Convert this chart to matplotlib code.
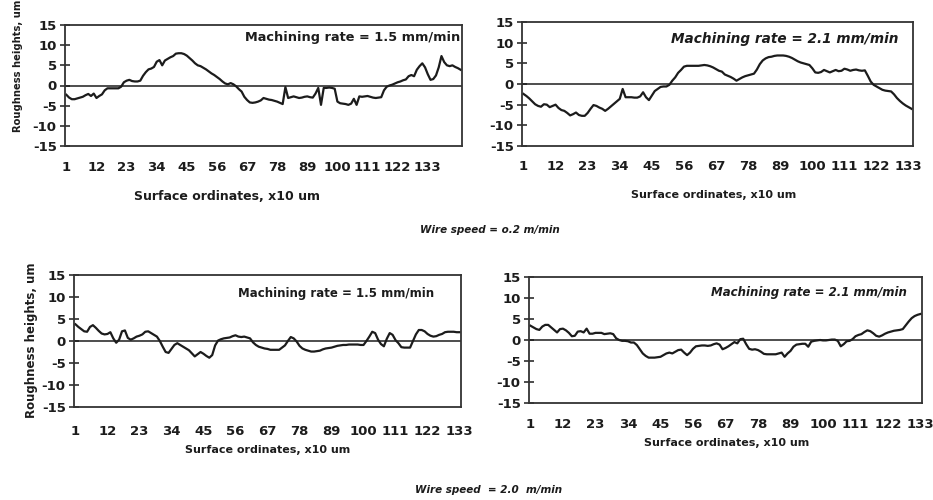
import matplotlib
matplotlib.use("Agg")
import matplotlib.pyplot as plt

plt.rcParams['font.family'] = ['DejaVu Sans']

# ---------------- data ----------------
tick_labels = ['1', '12', '23', '34', '45', '56', '67', '78', '89', '100', '111', '122', '133']

# Wire speed 0.2 m/min, machining rate 1.5 mm/min
rough_a = [-2.3, -3.0, -3.4, -3.4, -3.2, -3.0, -2.8, -2.4, -2.1, -2.6,
           -2.0, -3.1, -2.6, -2.2, -1.2, -0.7, -0.7, -0.7, -0.7, -0.7,
           -0.3, 0.8, 1.2, 1.4, 1.1, 1.0, 1.0, 1.2, 2.4, 3.3,
           4.0, 4.2, 4.6, 5.9, 6.3, 5.0, 6.2, 6.6, 7.0, 7.3,
           7.9, 8.0, 8.0, 7.8, 7.4, 6.8, 6.2, 5.5, 5.0, 4.8,
           4.4, 4.0, 3.5, 3.0, 2.6, 2.1, 1.6, 1.0, 0.5, 0.3,
           0.6, 0.3, -0.2, -0.9, -1.5, -2.8, -3.6, -4.2, -4.3, -4.2,
           -4.0, -3.7, -3.1, -3.3, -3.5, -3.6, -3.8, -4.0, -4.3, -4.6,
           -0.4, -3.1, -2.9, -2.7, -2.9, -3.1, -3.0, -2.8, -2.7, -2.9,
           -3.0, -2.0, -0.6, -4.8, -0.6, -0.6, -0.5, -0.6, -0.8, -4.0,
           -4.4, -4.5, -4.6, -4.8, -4.5, -3.3, -4.8, -2.7, -2.8, -2.7,
           -2.6, -2.8, -3.0, -3.1, -3.0, -2.9, -1.2, -0.3, 0.0, 0.2,
           0.5, 0.8, 1.0, 1.3, 1.5, 2.3, 2.6, 2.3, 3.9, 4.8,
           5.5, 4.5, 2.8, 1.4, 1.6, 2.5, 4.5, 7.3, 5.8, 5.0,
           4.8, 5.0, 4.6, 4.3, 3.9]

# Wire speed 0.2 m/min, machining rate 2.1 mm/min
rough_b = [-2.4, -2.9, -3.5, -4.2, -4.9, -5.3, -5.5, -4.9, -5.0, -5.6,
           -5.3, -5.0, -5.8, -6.3, -6.5, -7.0, -7.6, -7.3, -6.9, -7.5,
           -7.7, -7.7, -7.0, -6.0, -5.1, -5.3, -5.7, -6.0, -6.5, -6.0,
           -5.4, -4.8, -4.2, -3.6, -1.2, -3.2, -3.2, -3.2, -3.3, -3.3,
           -3.0, -2.0, -3.2, -3.9, -2.8, -1.7, -1.2, -0.7, -0.6, -0.6,
           -0.2, 0.8, 1.6, 2.7, 3.4, 4.2, 4.4, 4.4, 4.4, 4.4,
           4.4, 4.5, 4.6, 4.5, 4.3, 4.0, 3.6, 3.2, 3.0, 2.3,
           2.0, 1.7, 1.3, 0.8, 1.2, 1.6, 1.9, 2.1, 2.3, 2.5,
           3.5, 4.8, 5.7, 6.2, 6.5, 6.6, 6.8, 6.9, 6.9, 6.9,
           6.8, 6.6, 6.3, 5.9, 5.5, 5.2, 5.0, 4.8, 4.6, 3.8,
           2.8, 2.7, 2.9, 3.4, 3.1, 2.8, 3.1, 3.4, 3.1, 3.2,
           3.7, 3.5, 3.2, 3.4, 3.5, 3.3, 3.2, 3.3, 2.0, 0.6,
           -0.2, -0.6, -1.0, -1.4, -1.6, -1.7, -1.8, -2.5, -3.4, -4.1,
           -4.7, -5.2, -5.6, -6.0]

# Wire speed 2.0 m/min, machining rate 1.5 mm/min
rough_c = [3.8, 3.2, 2.7, 2.2, 2.1, 3.2, 3.6, 3.0, 2.3, 1.7,
           1.5, 1.6, 2.0, 0.6, -0.4, 0.3, 2.2, 2.4, 0.7, 0.3,
           0.6, 1.0, 1.2, 1.5, 2.1, 2.2, 1.8, 1.4, 1.0, 0.0,
           -1.3, -2.5, -2.7, -1.8, -0.9, -0.5, -0.9, -1.3, -1.7, -2.1,
           -2.8, -3.5, -3.0, -2.5, -2.9, -3.4, -3.8, -3.2, -1.0, 0.1,
           0.4, 0.6, 0.7, 0.8, 1.1, 1.3, 1.0, 0.9, 1.0, 0.8,
           0.6, -0.3, -0.9, -1.3, -1.5, -1.7, -1.8, -2.0, -2.0, -2.0,
           -2.0, -1.5, -1.0, 0.0, 0.9, 0.6, -0.1, -1.1, -1.7, -2.0,
           -2.2, -2.4, -2.4, -2.3, -2.2, -1.9, -1.7, -1.6, -1.5, -1.3,
           -1.1, -1.0, -0.9, -0.9, -0.8, -0.8, -0.8, -0.8, -0.9, -0.9,
           0.0, 1.0, 2.1, 1.8, 0.3, -0.7, -1.2, 0.5, 1.8, 1.4,
           0.2, -0.5, -1.4, -1.5, -1.5, -1.5, 0.0, 1.5, 2.5, 2.5,
           2.2, 1.6, 1.2, 1.0, 1.1, 1.4, 1.6, 2.0, 2.1, 2.1,
           2.1, 2.0, 2.0]

# Wire speed 2.0 m/min, machining rate 2.1 mm/min
rough_d = [3.4, 3.0, 2.6, 2.4, 3.2, 3.6, 3.6, 3.0, 2.4, 1.8,
           2.6, 2.7, 2.3, 1.7, 0.9, 1.0, 2.0, 2.1, 1.8, 2.7,
           1.5, 1.5, 1.7, 1.7, 1.7, 1.4, 1.5, 1.6, 1.4, 0.4,
           0.0, -0.2, -0.2, -0.3, -0.6, -0.6, -1.2, -2.2, -3.2, -3.8,
           -4.2, -4.2, -4.2, -4.1, -4.0, -3.6, -3.2, -3.0, -3.2, -2.8,
           -2.4, -2.3, -3.0, -3.6, -3.0, -2.1, -1.5, -1.4, -1.3, -1.3,
           -1.4, -1.3, -1.0, -0.8, -1.1, -2.2, -1.9, -1.5, -1.0, -0.5,
           -0.8, 0.2, 0.3, -1.0, -2.1, -2.3, -2.2, -2.4, -2.8, -3.3,
           -3.4, -3.4, -3.4, -3.4, -3.2, -3.0, -4.0, -3.2, -2.6, -1.6,
           -1.1, -1.0, -0.9, -0.9, -1.6, -0.4, -0.2, -0.1, 0.0, -0.1,
           -0.1, 0.0, 0.1, 0.1, -0.2, -1.5, -1.0, -0.3, -0.2, 0.2,
           0.9, 1.2, 1.4, 1.9, 2.3, 2.1, 1.6, 1.0, 0.8, 1.1,
           1.5, 1.8, 2.0, 2.2, 2.3, 2.4, 2.6, 3.5, 4.4, 5.2,
           5.7, 6.0, 6.2]

rate_labels = ['Machining rate = 1.5 mm/min', 'Machining rate = 2.1 mm/min',
               'Machining rate = 1.5 mm/min', 'Machining rate = 2.1 mm/min']
xlabel_text = 'Surface ordinates, x10 um'
ylabel_text = 'Roughness heights, um'
speed_labels = ['Wire speed = o.2 m/min', 'Wire speed  = 2.0  m/min']

# ---------------- figure ----------------
W, H = 933, 500
fig = plt.figure(figsize=(W / 100, H / 100), dpi=100)
fig.patch.set_facecolor('white')

INK = '#1c1c1c'


def add_ax(x0, x1, y0, y1):
    return fig.add_axes([x0 / W, 1 - y1 / H, (x1 - x0) / W, (y1 - y0) / H])


panels = [
    # data, rate label, box (x0,x1,y0,y1), rate text (x,y axes), rate fs, style, xtick pad, xlabel (cx,cy,fs)
    (rough_a, rate_labels[0], (65, 462, 25, 146), (0.995, 0.90), 9.3, 'normal', 11.0, (227, 197, 9.0)),
    (rough_b, rate_labels[1], (522, 913, 22, 146), (0.962, 0.86), 9.8, 'italic', 10.0, (714, 195, 8.0)),
    (rough_c, rate_labels[2], (74, 461, 275, 407), (0.93, 0.86), 8.5, 'normal', 13.0, (268, 450, 8.0)),
    (rough_d, rate_labels[3], (529, 922, 277, 403), (0.962, 0.88), 8.5, 'italic', 11.0, (727, 443, 8.0)),
]

for data, rlabel, box, tpos, tfs, tstyle, xpad, xl in panels:
    ax = add_ax(*box)
    n = len(data)
    cats = list(range(1, n + 1))
    ax.plot(cats, data, color=INK, lw=1.6, solid_joinstyle='round')
    ax.axhline(0, color=INK, lw=1.1)
    ax.set_xlim(0.5, n + 0.5)
    ax.set_ylim(-15, 15)
    ax.set_yticks(range(-15, 16, 5))
    ax.set_yticklabels([str(v) for v in range(-15, 16, 5)])
    tick_pos = [int(t) for t in tick_labels]
    ax.set_xticks(tick_pos)
    ax.set_xticklabels(tick_labels)
    ax.tick_params(axis='x', length=0, pad=xpad, labelsize=9.5, colors=INK)
    ax.tick_params(axis='y', direction='inout', length=7, width=1.1, pad=2.5,
                   labelsize=9.5, colors=INK)
    for lab in ax.get_xticklabels() + ax.get_yticklabels():
        lab.set_fontweight('bold')
    for sp in ax.spines.values():
        sp.set_color('#333333')
        sp.set_linewidth(1.3)
    ax.text(tpos[0], tpos[1], rlabel, transform=ax.transAxes, ha='right', va='center',
            fontsize=tfs, fontweight='bold', fontstyle=tstyle, color=INK)
    fig.text(xl[0] / W, 1 - xl[1] / H, xlabel_text, ha='center', va='center',
             fontsize=xl[2], fontweight='bold', color=INK)

# y-axis titles (left column only)
fig.text(18 / W, 1 - 66 / H, ylabel_text, rotation=90, ha='center', va='center',
         fontsize=7.2, fontweight='bold', color=INK)
fig.text(32 / W, 1 - 340 / H, ylabel_text, rotation=90, ha='center', va='center',
         fontsize=8.5, fontweight='bold', color=INK)

# wire speed captions
fig.text(490 / W, 1 - 230 / H, speed_labels[0], ha='center', va='center',
         fontsize=7.5, fontweight='bold', fontstyle='italic', color=INK)
fig.text(489 / W, 1 - 490 / H, speed_labels[1], ha='center', va='center',
         fontsize=7.5, fontweight='bold', fontstyle='italic', color=INK)

fig.savefig('out.png', dpi=100, facecolor='white')
